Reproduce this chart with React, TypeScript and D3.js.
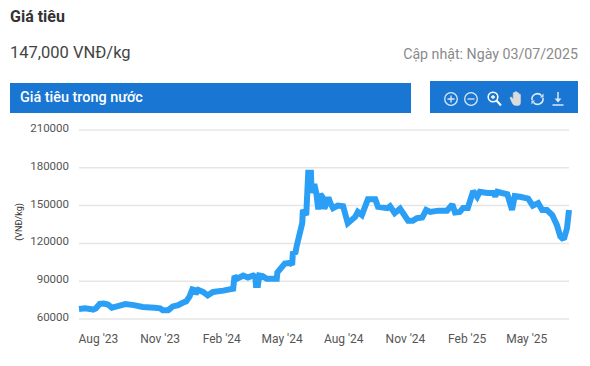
import React from "react";
import * as d3 from "d3";

const title = "Giá tiêu";
const priceText = "147,000 VNĐ/kg";
const updatedText = "Cập nhật: Ngày 03/07/2025";
const panelTitle = "Giá tiêu trong nước";
const yTitle = "(VNĐ/kg)";
const yTicks = [60000, 90000, 120000, 150000, 180000, 210000];
const xTickDates = ["2023-08-01", "2023-11-01", "2024-02-01", "2024-05-01", "2024-08-01", "2024-11-01", "2025-02-01", "2025-05-01"];
const xTickLabels = ["Aug '23", "Nov '23", "Feb '24", "May '24", "Aug '24", "Nov '24", "Feb '25", "May '25"];
const startDate = "2023-07-03";
const daysSinceStart = [
  0, 9, 16, 21, 25, 31, 37, 43, 49, 58,
  69, 82, 95, 113, 121, 125, 133, 140, 148, 154,
  160, 165, 169, 172, 174, 178, 185, 192, 200, 215,
  230, 232, 236, 245, 252, 260, 263, 264, 267, 269,
  274, 280, 295, 296, 307, 315, 318, 319, 323, 325,
  333, 334, 339, 342, 346, 347, 351, 354, 357, 360,
  363, 366, 372, 375, 379, 386, 394, 401, 412, 416,
  422, 431, 442, 446, 460, 464, 471, 479, 491, 498,
  504, 512, 518, 524, 536, 549, 557, 561, 568, 573,
  580, 588, 594, 598, 609, 618, 621, 624, 631, 639,
  646, 650, 658, 670, 677, 685, 691, 698, 706, 713,
  718, 721, 724, 728, 731,
];
const prices = [
  68000, 68500, 68000, 67500, 68300, 72000, 72200, 71500, 69000, 70200,
  71800, 71000, 69500, 69000, 68500, 67000, 67000, 70000, 71000, 72700,
  74000, 78000, 83500, 83000, 80000, 83000, 81500, 78800, 81500, 82500,
  84000, 94000, 92000, 94500, 93000, 94500, 93500, 87000, 87000, 94500,
  94000, 92000, 92000, 97000, 104000, 104500, 103000, 112000, 113000, 118500,
  136000, 146500, 142500, 176000, 176000, 160000, 167000, 160000, 147000, 159000,
  157000, 147500, 156500, 152000, 148000, 150000, 149500, 136000, 141000, 145000,
  142500, 155000, 155000, 149000, 148000, 149500, 144000, 147500, 138000, 138000,
  140000, 140500, 146500, 145000, 146000, 146000, 151000, 144500, 145000, 148000,
  148000, 161500, 157000, 161000, 160000, 160000, 157500, 161000, 160000, 159000,
  146500, 157500, 157000, 155500, 150000, 152000, 146500, 146500, 142500, 134500,
  125500, 124000, 124500, 132000, 146500,
];

const W = 590;
const H = 366;
const LINE = "#2b9ef5";
const BLUE = "#1976d2";
const FONT = "Roboto, sans-serif";

const Icon = ({ x, children }: { x: number; children: React.ReactNode }) => (
  <g transform={`translate(${x},99)`} fill="none" stroke="#dbe8f6" strokeWidth={1.3}>
    {children}
  </g>
);

export default function App() {
  const s = new Date(startDate + "T00:00:00");
  const x = d3.scaleTime().domain([s, d3.timeDay.offset(s, 731)]).range([79, 569]);
  const y = d3.scaleLinear().domain([60000, 210000]).range([319, 130]);
  const series = daysSinceStart.map((d, i) => ({ date: d3.timeDay.offset(s, d), value: prices[i] }));
  const path = d3
    .line<{ date: Date; value: number }>()
    .x((d) => x(d.date))
    .y((d) => y(d.value))
    .curve(d3.curveLinear)(series);

  return (
    <svg width={W} height={H} style={{ position: "fixed", left: 0, top: 0, background: "#fff" }} fontFamily={FONT}>
      <text x={10} y={22} fontSize={16} fontWeight={700} fill="#333">{title}</text>
      <text x={10} y={58} fontSize={16.5} fill="#444">{priceText}</text>
      <text x={578} y={59} fontSize={14.2} fill="#8a8a8a" textAnchor="end">{updatedText}</text>

      <rect x={10} y={83} width={401} height={30} fill={BLUE} />
      <text x={20} y={102} fontSize={14.4} fontWeight={500} fill="#fff">{panelTitle}</text>

      <rect x={430} y={81} width={148} height={32} fill={BLUE} />
      <Icon x={451}>
        <circle r={6.3} />
        <path d="M-3.5 0H3.5M0 -3.5V3.5" />
      </Icon>
      <Icon x={471}>
        <circle r={6.3} />
        <path d="M-3.5 0H3.5" />
      </Icon>
      <Icon x={494}>
        <circle cx={-1} cy={-2} r={4.8} strokeWidth={1.6} stroke="#fff" />
        <path d="M2.5 1.5L7 6.5" strokeWidth={2} stroke="#fff" />
        <path d="M-3 -2H1M-1 -4V0" stroke="#fff" />
      </Icon>
      <Icon x={515}>
        <path
          d="M-5 -1L-3 3.5Q-2 6.5 1 6.5H3Q5.5 6.5 5.5 3.5V-3.5V-4.5Q4.5 -5.5 3.8 -4.5V-6Q2.8 -7 2 -6V-7Q1 -8 0 -7V-6.5Q-1 -7 -1.8 -6V0.5L-3.5 -2Q-4.5 -2.5 -5 -1Z"
          fill="#dbdbdb"
          stroke="#dbdbdb"
          strokeWidth={0.5}
        />
      </Icon>
      <Icon x={537.5}>
        <path d="M-5.5 1A5.5 5.5 0 0 1 4 -3.5" strokeWidth={1.6} />
        <path d="M5.5 -1A5.5 5.5 0 0 1 -4 3.5" strokeWidth={1.6} />
        <path d="M2.5 -1.5H6V-5.5Z" fill="#dbe8f6" stroke="none" />
        <path d="M-2.5 1.5H-6V5.5Z" fill="#dbe8f6" stroke="none" />
      </Icon>
      <Icon x={558}>
        <path d="M0 -7V2.5" strokeWidth={1.5} />
        <path d="M-3.5 -0.5L0 3.5L3.5 -0.5Z" fill="#dbe8f6" stroke="none" />
        <path d="M-5.5 6H5.5" strokeWidth={1.5} />
      </Icon>

      <text transform="translate(22,222) rotate(-90)" fontSize={9} fill="#333" textAnchor="middle">
        {yTitle}
      </text>

      {yTicks.map((t) => (
        <g key={t}>
          <line x1={79} x2={569} y1={y(t)} y2={y(t)} stroke="#e6e6e6" strokeWidth={1.5} />
          <text x={69} y={y(t) + 2} fontSize={11.5} fill="#555" textAnchor="end">{t}</text>
        </g>
      ))}

      {xTickDates.map((d, i) => (
        <text key={d} x={x(new Date(d + "T00:00:00"))} y={343} fontSize={12} fill="#555" textAnchor="middle">
          {xTickLabels[i]}
        </text>
      ))}

      <path d={path ?? ""} fill="none" stroke={LINE} strokeWidth={6} strokeLinejoin="miter" strokeMiterlimit={2} />
    </svg>
  );
}
